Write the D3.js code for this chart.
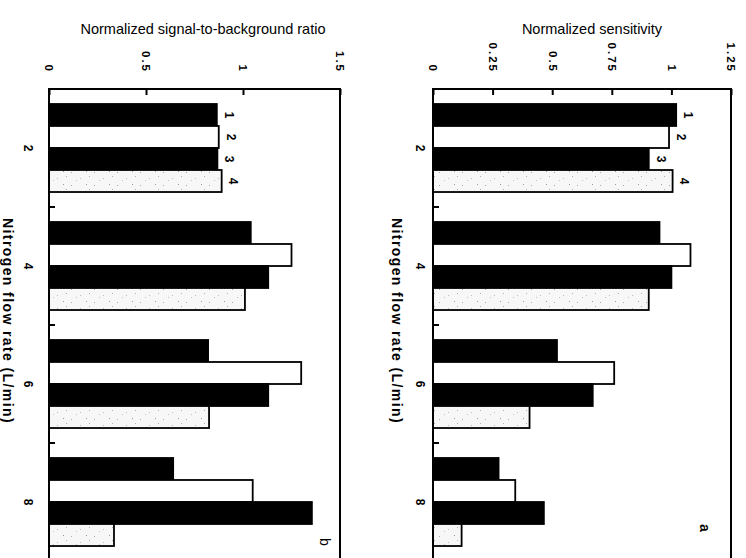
<!DOCTYPE html>
<html><head><meta charset="utf-8">
<script src="https://cdn.jsdelivr.net/npm/d3@7"></script>
<style>body{margin:0;background:#fff}svg{display:block}</style>
</head><body><svg id="c" width="746" height="558"></svg>
<script>
// ---- data ----
const categories = ["2", "4", "6", "8"];
const seriesLabels = ["1", "2", "3", "4"];
// panel a : normalized sensitivity
const sensSeries1 = [1.02, 0.95, 0.52, 0.275];
const sensSeries2 = [0.99, 1.08, 0.76, 0.345];
const sensSeries3 = [0.905, 1.0, 0.67, 0.465];
const sensSeries4 = [1.005, 0.905, 0.405, 0.12];
const sensTicks = [0, 0.25, 0.5, 0.75, 1, 1.25];
const sensTickLabels = ["0", "0.25", "0.5", "0.75", "1", "1.25"];
// panel b : normalized signal-to-background ratio
const sbrSeries1 = [0.865, 1.04, 0.82, 0.64];
const sbrSeries2 = [0.875, 1.25, 1.30, 1.05];
const sbrSeries3 = [0.868, 1.13, 1.13, 1.355];
const sbrSeries4 = [0.89, 1.01, 0.825, 0.335];
const sbrTicks = [0, 0.5, 1, 1.5];
const sbrTickLabels = ["0", "0.5", "1", "1.5"];
const sensTitle = "Normalized sensitivity";
const sbrTitle = "Normalized signal-to-background ratio";
const xTitle = "Nitrogen flow rate (L/min)";

// ---- layout ----
const svg = d3.select("#c");
const defs = svg.append("defs");
const pat = defs.append("pattern").attr("id", "dots").attr("patternUnits", "userSpaceOnUse")
  .attr("width", 23).attr("height", 13);
pat.append("rect").attr("width", 23).attr("height", 13).attr("fill", "#f7f7f7");
[[2, 3, "#aaa"], [11, 9, "#bbb"], [17, 2, "#999"], [7, 11, "#c4c4c4"], [20, 7, "#b0b0b0"]].forEach(([px, py, c]) =>
  pat.append("rect").attr("x", px).attr("y", py).attr("width", 1).attr("height", 1).attr("fill", c));

const fills = ["#000", "#fff", "#000", "url(#dots)"];
const frameTop = 89, frameBottom = 561;

const panels = [
  { series: [sensSeries1, sensSeries2, sensSeries3, sensSeries4], ticks: sensTicks, tickLabels: sensTickLabels,
    title: sensTitle, letter: "a", x0: 433, x1: 731, max: 1.25, catX: 420, titleX: 397, headX: 592,
    letterX: 705, letterY: 528, letterWeight: "bold" },
  { series: [sbrSeries1, sbrSeries2, sbrSeries3, sbrSeries4], ticks: sbrTicks, tickLabels: sbrTickLabels,
    title: sbrTitle, letter: "b", x0: 49, x1: 340, max: 1.5, catX: 28, titleX: 8, headX: 203,
    letterX: 325, letterY: 542, letterWeight: "normal" }
];

const y = d3.scaleBand().domain(categories).range([frameTop, frameBottom]).padding(0);
const bw = y.bandwidth();
const ySub = d3.scaleBand().domain(seriesLabels).range([bw * 0.127, bw * 0.873]).padding(0);

const sansFont = "'Liberation Sans', Arial, sans-serif";
const narrowFont = "'Liberation Sans Narrow', 'Arial Narrow', 'Liberation Sans', sans-serif";

panels.forEach(p => {
  const x = d3.scaleLinear().domain([0, p.max]).range([p.x0, p.x1]);
  const g = svg.append("g");

  // bars
  p.series.forEach((vals, si) => {
    g.append("g").selectAll("rect").data(vals).join("rect")
      .attr("x", x(0))
      .attr("y", (d, i) => y(categories[i]) + ySub(seriesLabels[si]))
      .attr("width", d => x(d) - x(0))
      .attr("height", ySub.bandwidth())
      .attr("fill", fills[si])
      .attr("stroke", "#000")
      .attr("stroke-width", 1.8);
  });

  // series labels next to first group
  g.append("g").selectAll("text").data(p.series).join("text")
    .attr("transform", (vals, si) => `translate(${x(vals[0]) + 12},${y(categories[0]) + ySub(seriesLabels[si]) + ySub.bandwidth() / 2}) rotate(90)`)
    .attr("text-anchor", "middle").attr("dy", "0.35em")
    .attr("font-family", sansFont).attr("font-size", 12).attr("font-weight", "bold")
    .text((vals, si) => seriesLabels[si]);

  // frame
  g.append("rect").attr("x", x(0)).attr("y", frameTop).attr("width", x(p.max) - x(0))
    .attr("height", frameBottom - frameTop).attr("fill", "none").attr("stroke", "#000").attr("stroke-width", 2);

  // value axis (top), inward ticks, rotated labels
  const ax = d3.axisTop(x).tickValues(p.ticks).tickFormat((d, i) => p.tickLabels[i]).tickSizeInner(-6).tickSizeOuter(0);
  const axg = g.append("g").attr("transform", `translate(0,${frameTop})`).call(ax);
  axg.select(".domain").remove();
  axg.selectAll(".tick line").attr("stroke", "#000").attr("stroke-width", 2);
  axg.selectAll(".tick text")
    .attr("transform", "rotate(90)")
    .attr("x", -16).attr("y", 0).attr("dy", "0.35em")
    .attr("text-anchor", "end")
    .attr("font-family", sansFont).attr("font-size", 11.5).attr("font-weight", "bold")
    .attr("letter-spacing", "2px").attr("fill", "#000");

  // category ticks at band boundaries
  g.append("g").selectAll("line").data(categories.slice(1)).join("line")
    .attr("x1", x(0)).attr("x2", x(0) + 6)
    .attr("y1", d => y(d)).attr("y2", d => y(d))
    .attr("stroke", "#000").attr("stroke-width", 2);

  // category labels
  g.append("g").selectAll("text").data(categories).join("text")
    .attr("transform", d => `translate(${p.catX},${y(d) + bw / 2}) rotate(90)`)
    .attr("text-anchor", "middle").attr("dy", "0.35em")
    .attr("font-family", sansFont).attr("font-size", 12).attr("font-weight", "bold")
    .text(d => d);

  // axis title
  g.append("text")
    .attr("transform", `translate(${p.titleX},321) rotate(90)`)
    .attr("text-anchor", "middle").attr("dy", "0.35em")
    .attr("font-family", sansFont).attr("font-size", 14).attr("font-weight", "bold")
    .attr("letter-spacing", "1.4px")
    .text(xTitle);

  // panel heading
  g.append("text").attr("x", p.headX).attr("y", 34).attr("text-anchor", "middle")
    .attr("font-family", narrowFont).attr("font-size", 14.5)
    .text(p.title);

  // panel letter
  g.append("text")
    .attr("transform", `translate(${p.letterX},${p.letterY}) rotate(90)`)
    .attr("text-anchor", "middle").attr("dy", "0.35em")
    .attr("font-family", sansFont).attr("font-size", 14).attr("font-weight", p.letterWeight)
    .text(p.letter);
});
</script></body></html>
